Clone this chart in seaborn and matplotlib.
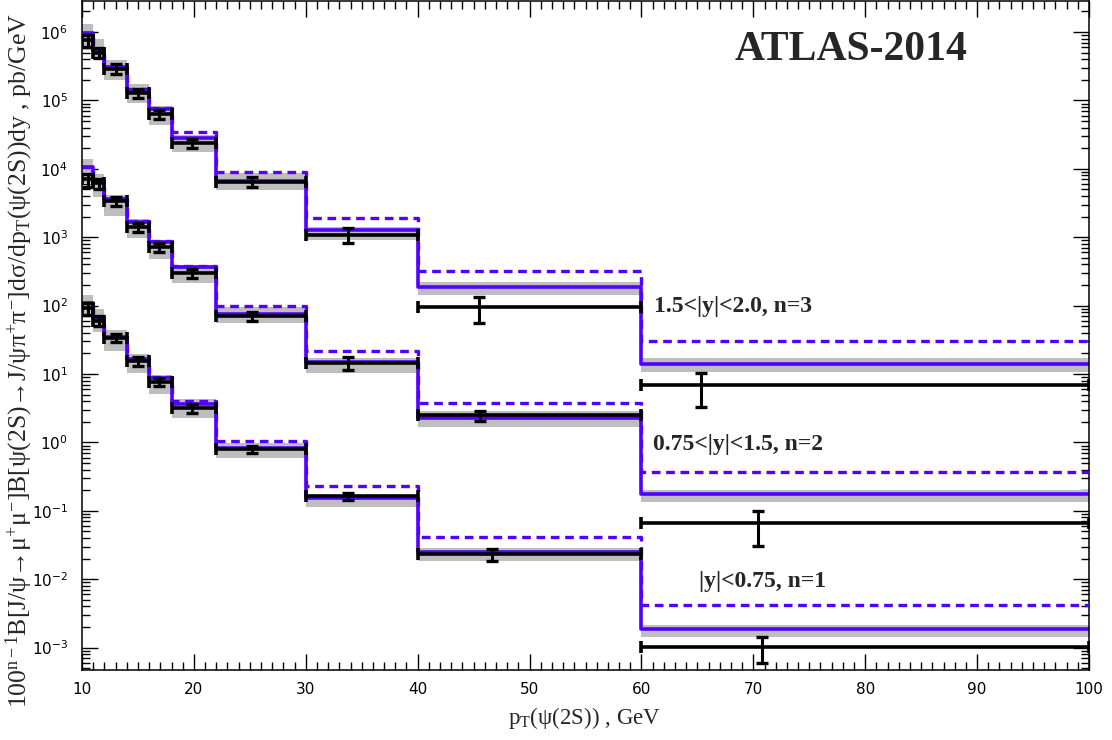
import numpy as np
import matplotlib
matplotlib.use('Agg')
import matplotlib.pyplot as plt
import seaborn as sns
from matplotlib.ticker import LogLocator, MultipleLocator, NullFormatter

# ---------------- data ----------------
pt_edges = [10, 11, 12, 14, 16, 18, 22, 30, 40, 60, 100]

# 1.5<|y|<2.0, n=3
top_x = [10.5, 11.5, 13.0, 15.0, 16.9, 19.8, 25.2, 33.8, 45.5, 65.3]
top_y = [7.6e5, 5.0e5, 2.9e5, 1.27e5, 6.3e4, 2.36e4, 6.5e3, 1.08e3, 95, 6.9]
top_err = [1.5e5, 8e4, 4.5e4, 2e4, 1e4, 3.5e3, 1.1e3, 2.7e2, 39, 3.6]
top_th = [9.8e5, 5.4e5, 3.1e5, 1.42e5, 7.4e4, 2.8e4, 6.6e3, 1.27e3, 187, 14]
top_th_hi = [1.31e6, 7.9e5, 3.9e5, 1.74e5, 8.3e4, 3.1e4, 8.6e3, 1.41e3, 223, 17]
top_th_lo = [5.5e5, 3.9e5, 2.0e5, 9.1e4, 4.4e4, 1.78e4, 4.9e3, 910, 143, 10.7]
top_th2 = [9.8e5, 5.4e5, 3.1e5, 1.45e5, 7.8e4, 3.4e4, 9.0e3, 1.9e3, 320, 30.7]

# 0.75<|y|<1.5, n=2
mid_x = [10.5, 11.5, 13.0, 15.0, 16.9, 19.8, 25.2, 33.8, 45.6, 70.4]
mid_y = [7.0e3, 6.1e3, 3.4e3, 1.4e3, 7.1e2, 3.0e2, 70, 14.5, 2.49, 0.066]
mid_err = [1.5e3, 1.0e3, 5e2, 2e2, 1e2, 45, 10, 3, 0.4, 0.035]
mid_th = [1.05e4, 6.5e3, 3.6e3, 1.65e3, 860, 364, 75, 15, 2.25, 0.174]
mid_th_hi = [1.38e4, 8.4e3, 4.1e3, 1.83e3, 910, 393, 94, 17, 2.9, 0.2]
mid_th_lo = [6.2e3, 3.9e3, 2.06e3, 964, 480, 212, 55, 10.4, 1.7, 0.135]
mid_th2 = [1.05e4, 6.5e3, 3.6e3, 1.7e3, 890, 380, 100, 22, 3.8, 0.37]

# |y|<0.75, n=1
bot_x = [10.5, 11.5, 13.0, 15.0, 16.9, 19.8, 25.2, 33.8, 46.6, 70.8]
bot_y = [91, 60, 34, 15.3, 7.7, 3.15, 0.80, 0.165, 0.023, 0.00102]
bot_err = [18, 10, 5, 2.2, 1.1, 0.45, 0.1, 0.02, 0.0045, 0.00042]
bot_th = [108, 63, 35, 16.6, 8.8, 3.7, 0.82, 0.155, 0.025, 0.0019]
bot_th_hi = [143, 89, 44, 19.6, 9.7, 4.3, 0.98, 0.17, 0.0283, 0.00214]
bot_th_lo = [73, 41, 22, 10.2, 5.1, 2.25, 0.59, 0.114, 0.0186, 0.00143]
bot_th2 = [108, 63, 35, 16.8, 9.0, 4.0, 1.06, 0.23, 0.041, 0.00415]

series_labels = ['1.5<|y|<2.0, n=3', '0.75<|y|<1.5, n=2', '|y|<0.75, n=1']
label_pos_x = [61.1, 61.0, 65.1]
label_pos_y = [95.5, 0.92, 0.0092]

# ---------------- style ----------------
sns.set_theme(style='ticks')
plt.rcParams['font.family'] = ['DejaVu Sans']
plt.rcParams['axes.unicode_minus'] = False
plt.rcParams['mathtext.fontset'] = 'custom'
plt.rcParams['mathtext.rm'] = 'Liberation Serif'
plt.rcParams['mathtext.it'] = 'Liberation Serif:italic'
plt.rcParams['mathtext.bf'] = 'Liberation Serif:bold'

BLUE = '#5200ff'
GRAY = '#bebebe'

fig = plt.figure(figsize=(11.12, 7.40), dpi=100)
ax = fig.add_axes([82 / 1112, 70 / 740, 1007 / 1112, 669 / 740])
ax.set_yscale('log')

edges = np.array(pt_edges, dtype=float)

groups = [
    (top_x, top_y, top_err, top_th, top_th_lo, top_th_hi, top_th2),
    (mid_x, mid_y, mid_err, mid_th, mid_th_lo, mid_th_hi, mid_th2),
    (bot_x, bot_y, bot_err, bot_th, bot_th_lo, bot_th_hi, bot_th2),
]

for gx, gy, ge, th, lo, hi, th2 in groups:
    lo_ext = list(lo) + [lo[-1]]
    hi_ext = list(hi) + [hi[-1]]
    ax.fill_between(edges, lo_ext, hi_ext, step='post', color=GRAY, lw=0, zorder=1)
    sns.lineplot(x=edges, y=list(th) + [th[-1]], ax=ax, drawstyle='steps-post',
                 color=BLUE, lw=2.6, estimator=None, sort=False, zorder=2)
    sns.lineplot(x=edges, y=list(th2) + [th2[-1]], ax=ax, drawstyle='steps-post',
                 color=BLUE, lw=2.4, estimator=None, sort=False, zorder=3,
                 linestyle=(0, (2.6, 1.7)))
    gx = np.array(gx)
    xl = gx - edges[:-1]
    xr = edges[1:] - gx
    ax.errorbar(gx, gy, xerr=[xl, xr], fmt='none', ecolor='black', elinewidth=2.6,
                capsize=4, capthick=2.6, zorder=4)
    ax.errorbar(gx, gy, yerr=ge, fmt='none', ecolor='black', elinewidth=2.2,
                capsize=4, capthick=2.4, zorder=5)

for lab, lx, ly in zip(series_labels, label_pos_x, label_pos_y):
    ax.text(lx, ly, lab, fontfamily='Liberation Serif', fontweight='bold',
            fontsize=17, ha='left', va='center', zorder=6)

ax.text(68.3, 5.5e5, 'ATLAS-2014', fontfamily='Liberation Serif', fontweight='bold',
        fontsize=30, ha='left', va='center', zorder=6)

ax.set_xlim(10, 100)
ax.set_ylim(4.71e-4, 2.84e6)
ax.xaxis.set_major_locator(MultipleLocator(10))
ax.xaxis.set_minor_locator(MultipleLocator(1))
ax.yaxis.set_major_locator(LogLocator(base=10, numticks=30))
ax.yaxis.set_minor_locator(LogLocator(base=10, subs=np.arange(2, 10), numticks=30))
ax.yaxis.set_minor_formatter(NullFormatter())
ax.tick_params(which='both', direction='in', top=True, right=True, colors='black',
               labelsize=11)
ax.tick_params(which='major', length=11.5, width=1.0)
ax.tick_params(which='minor', length=5.8, width=1.0)
ax.tick_params(axis='x', which='major', pad=9)
ax.tick_params(axis='y', which='major', pad=10)
for s in ax.spines.values():
    s.set_linewidth(1.1)
    s.set_color('black')
ax.set_xlabel('')
ax.set_ylabel('')

fig.text(585 / 1112, 1 - 718 / 740, r'p$_{\mathrm{T}}$(ψ(2S)) , GeV',
         fontfamily='Liberation Serif', fontsize=16.5, ha='center', va='center')
fig.text(19 / 1112, 1 - 361 / 740,
         r'100$^{\mathrm{n-1}}$B[J/ψ→μ$^{+}$μ$^{-}$]B[ψ(2S)→J/ψπ$^{+}$π$^{-}$]dσ/dp$_{\mathrm{T}}$(ψ(2S))dy , pb/GeV',
         fontfamily='Liberation Serif', fontsize=18.5, rotation=90, ha='center', va='center')

fig.savefig('out.png', dpi=100)
